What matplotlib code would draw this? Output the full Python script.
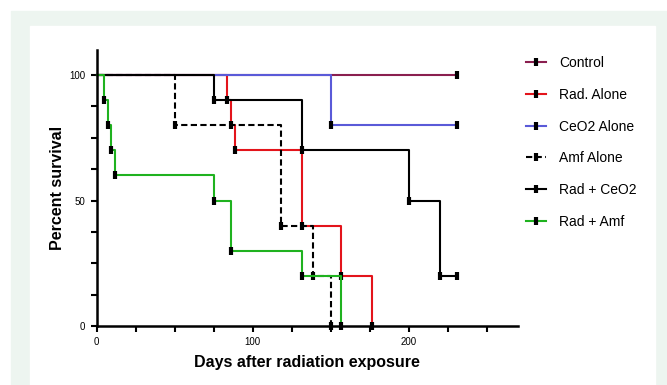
import matplotlib.pyplot as plt
from matplotlib.lines import Line2D
from matplotlib.patches import Rectangle
from matplotlib.ticker import MultipleLocator

plt.rcParams['font.family'] = ['Liberation Sans', 'DejaVu Sans']

# survival curves: days and percent surviving after each step
names = ['Control', 'Rad. Alone', 'CeO2 Alone', 'Amf Alone', 'Rad + CeO2', 'Rad + Amf']
ctrl_t = [0, 231]
ctrl_s = [100, 100]
rad_t = [0, 83.5, 86, 89, 131.5, 156.5, 176.5]
rad_s = [100, 90, 80, 70, 40, 20, 0]
ceo2_t = [0, 150, 231]
ceo2_s = [100, 80, 80]
amf_t = [0, 50, 118, 138.5, 150]
amf_s = [100, 80, 40, 20, 0]
radceo2_t = [0, 75, 131.5, 200, 220, 231]
radceo2_s = [100, 90, 70, 50, 20, 20]
radamf_t = [0, 5, 7.5, 9.5, 12, 75, 86, 131.5, 156.5]
radamf_s = [100, 90, 80, 70, 60, 50, 30, 20, 0]

series = [(ctrl_t, ctrl_s), (rad_t, rad_s), (ceo2_t, ceo2_s),
          (amf_t, amf_s), (radceo2_t, radceo2_s), (radamf_t, radamf_s)]
colors = ['#8a1f4f', '#e3141b', '#5a5ad8', 'black', 'black', '#1fb21f']
styles = ['-', '-', '-', (0, (3, 1.6)), '-', '-']

fig = plt.figure(figsize=(6.67, 3.85), dpi=100)
# background panels
fig.patches.append(Rectangle((11/667, 0), 1, 1 - 11/385, transform=fig.transFigure,
                             color='#edf5f0', zorder=-2))
fig.patches.append(Rectangle((30/667, 0), (655-30)/667, 1 - 26/385, transform=fig.transFigure,
                             color='white', zorder=-1))

ax = fig.add_axes([96.5/667, 1 - 326/385, (518 - 96.5)/667, (326 - 50)/385])
ax.patch.set_alpha(0)

for (t, s), c, ls in zip(series, colors, styles):
    ax.step(t, s, where='post', color=c, lw=1.5, ls=ls, clip_on=False)
    ax.plot(t[1:], s[1:], ls='none', marker='|', color='k', ms=6, mew=3, clip_on=False)

ax.set_xlim(0, 270)
ax.set_ylim(0, 110)
ax.xaxis.set_major_locator(MultipleLocator(100))
ax.xaxis.set_minor_locator(MultipleLocator(25))
ax.yaxis.set_major_locator(MultipleLocator(50))
ax.yaxis.set_minor_locator(MultipleLocator(12.5))
for sp in ['top', 'right']:
    ax.spines[sp].set_visible(False)
for sp in ['left', 'bottom']:
    ax.spines[sp].set_linewidth(1.8)
ax.tick_params(which='both', length=4, width=1.5, labelsize=7, pad=4)
ax.set_ylabel('Percent survival', fontsize=11.5, fontweight='bold', labelpad=3)
ax.set_xlabel('Days after radiation exposure', fontsize=11.5, fontweight='bold', labelpad=6)

handles = [Line2D([], [], color=c, ls=ls, lw=1.5, marker='|', mec='k', mfc='k', ms=6, mew=3)
           for c, ls in zip(colors, styles)]
fig.legend(handles, names, loc='upper left', bbox_to_anchor=(526/667, 1 - 56/385),
           frameon=False, fontsize=10, numpoints=1, handlelength=1.45,
           handletextpad=0.95, labelspacing=1.28, borderpad=0, borderaxespad=0)

fig.savefig('out.png', dpi=100)
